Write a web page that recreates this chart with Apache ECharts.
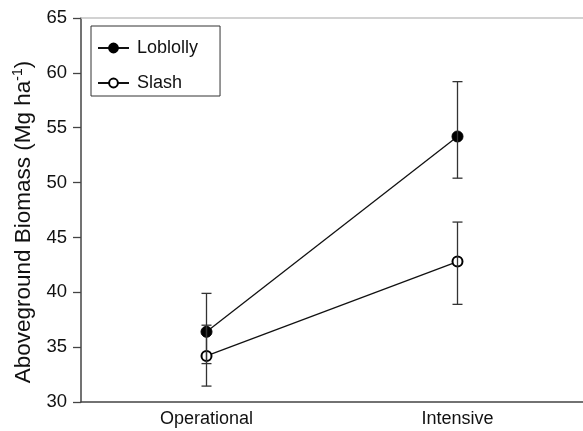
<!DOCTYPE html>
<html>
<head>
<meta charset="utf-8">
<script src="https://cdn.jsdelivr.net/npm/echarts@6/dist/echarts.min.js"></script>
<style>
  html, body { margin: 0; padding: 0; background: #fff; }
  #chart { width: 583px; height: 431px; }
</style>
</head>
<body>
<div id="chart"></div>
<script>
// Stand management regimes on the x axis
const categories = ['Operational', 'Intensive'];

// Mean aboveground biomass (Mg ha-1) with error bar limits
const loblolly = [36.4, 54.2];
const loblollyLow = [33.5, 50.4];
const loblollyHigh = [39.9, 59.2];

const slash = [34.2, 42.8];
const slashLow = [31.45, 38.9];
const slashHigh = [37.0, 46.4];

const yTicks = [30, 35, 40, 45, 50, 55, 60, 65];

const FONT = 'Liberation Sans, Arial, Helvetica, sans-serif';

function errorData(low, high) {
  return categories.map((c, i) => [i, low[i], high[i]]);
}

// Vertical whisker with end caps
function renderError(params, api) {
  const x = api.value(0);
  const lo = api.coord([x, api.value(1)]);
  const hi = api.coord([x, api.value(2)]);
  const half = 5;
  const style = { stroke: '#333', lineWidth: 1.3, fill: null };
  return {
    type: 'group',
    children: [
      { type: 'line', shape: { x1: lo[0], y1: lo[1], x2: hi[0], y2: hi[1] }, style },
      { type: 'line', shape: { x1: hi[0] - half, y1: hi[1], x2: hi[0] + half, y2: hi[1] }, style },
      { type: 'line', shape: { x1: lo[0] - half, y1: lo[1], x2: lo[0] + half, y2: lo[1] }, style }
    ]
  };
}

const chart = echarts.init(document.getElementById('chart'), null, { renderer: 'canvas' });

chart.setOption({
  animation: false,
  backgroundColor: '#fff',
  textStyle: { fontFamily: FONT },
  grid: { left: 81, right: -6, top: 18, bottom: 29, containLabel: false },
  legend: {
    orient: 'vertical',
    left: 91,
    top: 26,
    padding: [13, 22, 4, 6],
    itemGap: 17,
    itemWidth: 31,
    itemHeight: 11,
    borderColor: '#333',
    borderWidth: 1,
    backgroundColor: '#fff',
    textStyle: { fontFamily: FONT, fontSize: 18, color: '#111', padding: [0, 0, 0, 3] },
    data: ['Loblolly', 'Slash']
  },
  xAxis: [
    {
      type: 'category',
      data: categories,
      boundaryGap: true,
      axisLine: { lineStyle: { color: '#444', width: 1.5 } },
      axisTick: { show: false },
      axisLabel: { fontFamily: FONT, fontSize: 18, color: '#111', margin: 8 },
      splitLine: { show: false }
    },
    {
      type: 'category',
      data: categories,
      position: 'top',
      axisLine: { lineStyle: { color: '#c4c4c4', width: 1.5 } },
      axisTick: { show: false },
      axisLabel: { show: false },
      splitLine: { show: false }
    }
  ],
  yAxis: {
    type: 'value',
    min: yTicks[0],
    max: yTicks[yTicks.length - 1],
    interval: 5,
    name: '{t|Aboveground Biomass (Mg ha}{s|-1}{t|)}',
    nameLocation: 'middle',
    nameGap: 44,
    nameRotate: 90,
    nameTextStyle: {
      padding: [0, 24, 0, 0],
      rich: {
        t: { fontFamily: FONT, fontSize: 22.5, color: '#111', lineHeight: 26 },
        s: { fontFamily: FONT, fontSize: 14, color: '#111', verticalAlign: 'top', lineHeight: 26, padding: [0, 0, 8, 0] }
      }
    },
    axisLine: { show: true, lineStyle: { color: '#444', width: 1.5 } },
    axisTick: { show: true, inside: false, length: 8, lineStyle: { color: '#444', width: 1.3 } },
    axisLabel: { fontFamily: FONT, fontSize: 18.5, color: '#111', margin: 14 },
    splitLine: { show: false }
  },
  series: [
    {
      name: 'Loblolly',
      type: 'line',
      data: loblolly,
      symbol: 'circle',
      symbolSize: 11,
      lineStyle: { color: '#111', width: 1.3 },
      itemStyle: { color: '#000', borderColor: '#000', borderWidth: 1 },
      z: 3
    },
    {
      name: 'Slash',
      type: 'line',
      data: slash,
      symbol: 'emptyCircle',
      symbolSize: 10,
      lineStyle: { color: '#111', width: 1.3 },
      itemStyle: { color: '#000', borderColor: '#000', borderWidth: 1.2 },
      z: 3
    },
    {
      type: 'custom',
      renderItem: renderError,
      data: errorData(loblollyLow, loblollyHigh),
      encode: { x: 0, y: [1, 2] },
      z: 5,
      silent: true
    },
    {
      type: 'custom',
      renderItem: renderError,
      data: errorData(slashLow, slashHigh),
      encode: { x: 0, y: [1, 2] },
      z: 5,
      silent: true
    }
  ]
});
</script>
</body>
</html>
